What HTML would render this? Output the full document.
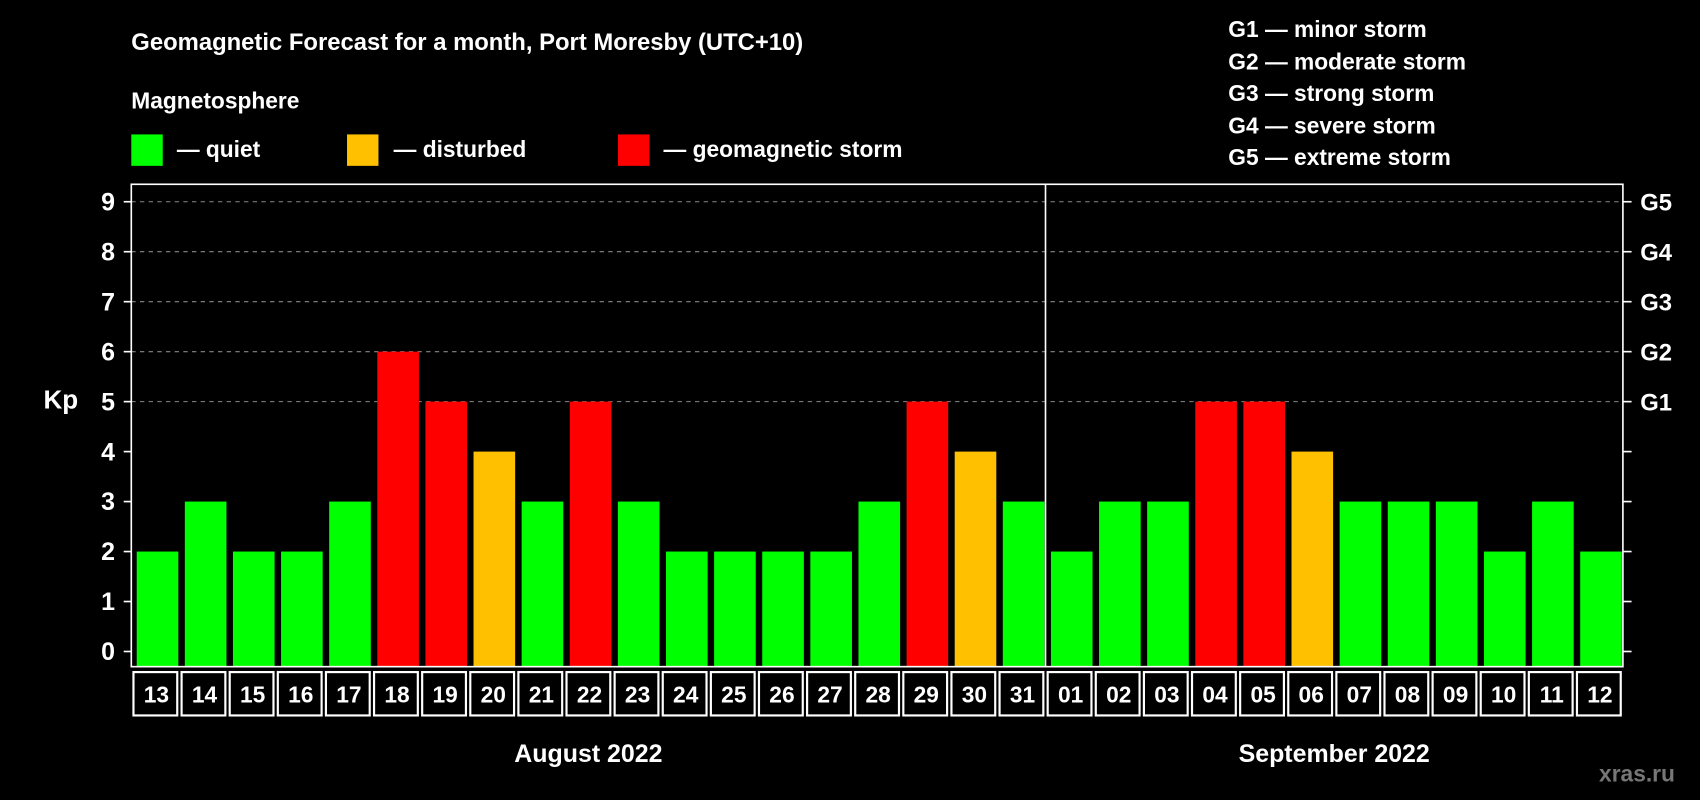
<!DOCTYPE html>
<html><head><meta charset="utf-8"><style>
html,body{margin:0;padding:0;background:#000;}
svg{display:block;font-family:"Liberation Sans",sans-serif;font-weight:bold;}
</style></head><body>
<svg id="chart" width="1700" height="800" viewBox="0 0 1568 738">
<rect width="1568" height="738" fill="#000"/>
<text x="121" y="46" fill="#fff" font-size="22">Geomagnetic Forecast for a month, Port Moresby (UTC+10)</text>
<text x="121" y="100" fill="#fff" font-size="21">Magnetosphere</text>
<g>
<rect x="121" y="124" width="29" height="29" fill="#00ff00"/>
<text x="163" y="145" fill="#fff" font-size="21">— quiet</text>
<rect x="320" y="124" width="29" height="29" fill="#ffc000"/>
<text x="363" y="145" fill="#fff" font-size="21">— disturbed</text>
<rect x="570" y="124" width="29" height="29" fill="#ff0000"/>
<text x="612" y="145" fill="#fff" font-size="21">— geomagnetic storm</text>
</g>
<g fill="#fff" font-size="21">
<text x="1133" y="34">G1 — minor storm</text>
<text x="1133" y="64">G2 — moderate storm</text>
<text x="1133" y="93">G3 — strong storm</text>
<text x="1133" y="123">G4 — severe storm</text>
<text x="1133" y="152">G5 — extreme storm</text>
</g>
<text x="40" y="377" fill="#fff" font-size="24">Kp</text>
<text x="1475" y="721" fill="#777" font-size="21">xras.ru</text>
<g id="plot"></g>
</svg>
<script>
const days = ["13","14","15","16","17","18","19","20","21","22","23","24","25","26","27","28","29","30","31","01","02","03","04","05","06","07","08","09","10","11","12"];
const kp = [2,3,2,2,3,6,5,4,3,5,3,2,2,2,2,3,5,4,3,2,3,3,5,5,4,3,3,3,2,3,2];
const yTicks = [0,1,2,3,4,5,6,7,8,9];
const gLabels = ["","","","","","G1","G2","G3","G4","G5"];
const months = ["August 2022","September 2022"];
const monthStarts = [0,19];

const NS="http://www.w3.org/2000/svg";
const L=121,R=1497,T=170,B=615;
const step=(R-L)/days.length;
const y=v=>601-v*46.1;
const xs=i=>L+i*step;
const g=document.getElementById('plot');
function mk(tag,attrs){const e=document.createElementNS(NS,tag);for(const k in attrs)e.setAttribute(k,attrs[k]);g.appendChild(e);return e;}

yTicks.forEach((t,i)=>{
  if(t>=5){const gl=mk('line',{x1:L,x2:R,y1:y(t),y2:y(t),stroke:'#888','stroke-dasharray':'4,4','stroke-width':1});
    
    }
  const tk=mk('line',{x1:L-7,x2:L,y1:y(t),y2:y(t),stroke:'#fff','stroke-width':1.5});
  
  
  const tr=mk('line',{x1:R,x2:R+8,y1:y(t),y2:y(t),stroke:'#fff','stroke-width':1.5});
  
  
  const lb=mk('text',{x:106,y:y(t)+8,fill:'#fff','font-size':23,'text-anchor':'end'});
  lb.textContent=t;
  
  
  if(gLabels[i]){const gt=mk('text',{x:1513,y:y(t)+8,fill:'#fff','font-size':22});
    gt.textContent=gLabels[i];
    
    }
});

kp.forEach((v,i)=>{
  const c=v>=5?'#ff0000':(v>=4?'#ffc000':'#00ff00');
  const b=mk('rect',{x:xs(i)+5,y:y(v),width:step-6,height:B-y(v),fill:c});
  
  
  const cell=mk('rect',{x:xs(i)+2,y:620,width:step-4,height:40,fill:'none',stroke:'#fff','stroke-width':2});
  
  
  const dt=mk('text',{x:xs(i)+step/2+1,y:648,fill:'#fff','font-size':21,'text-anchor':'middle'});
  dt.textContent=days[i];
  
  
});

const frame=mk('rect',{x:L,y:T,width:R-L,height:B-T,fill:'none',stroke:'#fff','stroke-width':1.5});


const sep=mk('line',{x1:xs(monthStarts[1]),x2:xs(monthStarts[1]),y1:T,y2:B,stroke:'#fff','stroke-width':1.5});



months.forEach((m,i)=>{
  const s=monthStarts[i],e=i+1<monthStarts.length?monthStarts[i+1]:days.length;
  const t=mk('text',{x:(xs(s)+xs(e))/2,y:703,fill:'#fff','font-size':23,'text-anchor':'middle'});
  t.textContent=m;
  
  
});
</script>
</body></html>
